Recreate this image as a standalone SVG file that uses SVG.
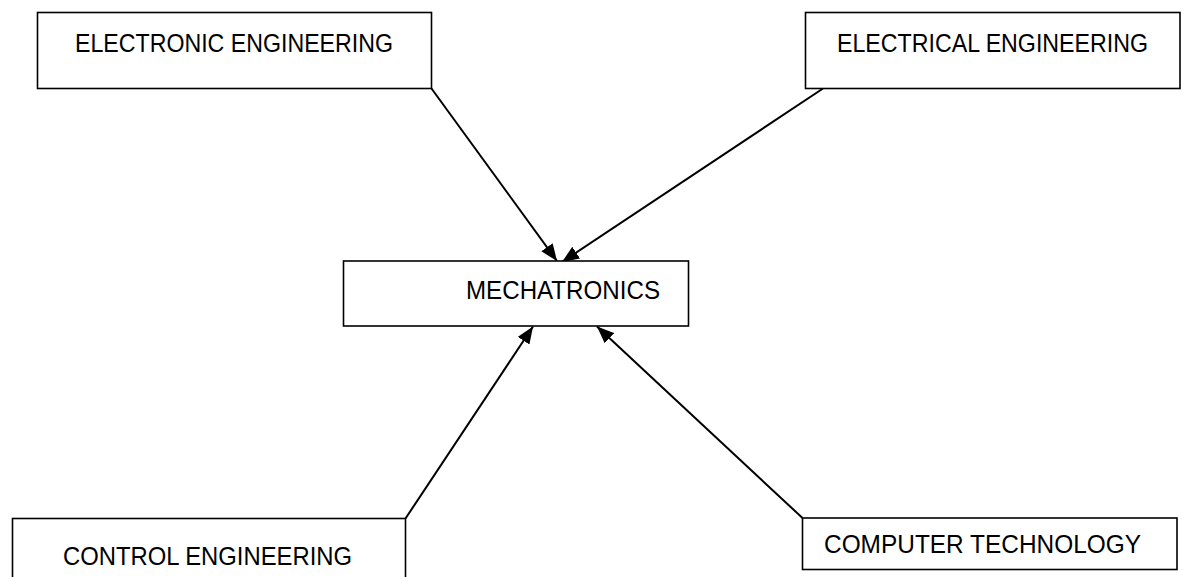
<svg xmlns="http://www.w3.org/2000/svg" width="1185" height="577" viewBox="0 0 1185 577">
<style>
.box{fill:#fff;stroke:#000;stroke-width:1.6}
.lbl{font-family:"Liberation Sans",Arial,sans-serif;font-size:25px;fill:#000}
.conn{stroke:#000;stroke-width:2;fill:none}
</style>
<defs>
<marker id="ah" markerUnits="userSpaceOnUse" markerWidth="18" markerHeight="14" refX="17" refY="7" orient="auto">
<path d="M0,0 L17,7 L0,14 Z" fill="#000"/>
</marker>
</defs>
<rect width="1185" height="577" fill="#fff"/>
<g id="connectors">
<line class="conn" x1="431.5" y1="88.5" x2="557" y2="261" marker-end="url(#ah)"/>
<line class="conn" x1="823" y1="88.5" x2="562" y2="262" marker-end="url(#ah)"/>
<line class="conn" x1="405.5" y1="518.5" x2="533" y2="326.5" marker-end="url(#ah)"/>
<line class="conn" x1="802.5" y1="518" x2="597" y2="326.5" marker-end="url(#ah)"/>
</g>
<g id="electronic">
<rect class="box" x="37.5" y="12.5" width="394" height="76"/>
<text class="lbl" x="75" y="52" textLength="318" lengthAdjust="spacingAndGlyphs">ELECTRONIC ENGINEERING</text>
</g>
<g id="electrical">
<rect class="box" x="805.5" y="12.5" width="374.5" height="76"/>
<text class="lbl" x="837" y="52" textLength="311" lengthAdjust="spacingAndGlyphs">ELECTRICAL ENGINEERING</text>
</g>
<g id="mechatronics">
<rect class="box" x="343.5" y="261" width="345" height="65"/>
<text class="lbl" x="466" y="299" textLength="194" lengthAdjust="spacingAndGlyphs">MECHATRONICS</text>
</g>
<g id="control">
<rect class="box" x="12.5" y="518.5" width="393" height="80"/>
<text class="lbl" x="63" y="565" textLength="289" lengthAdjust="spacingAndGlyphs">CONTROL ENGINEERING</text>
</g>
<g id="computer">
<rect class="box" x="802.5" y="518" width="374.5" height="51.5"/>
<text class="lbl" x="824" y="553" textLength="317" lengthAdjust="spacingAndGlyphs">COMPUTER TECHNOLOGY</text>
</g>
</svg>
